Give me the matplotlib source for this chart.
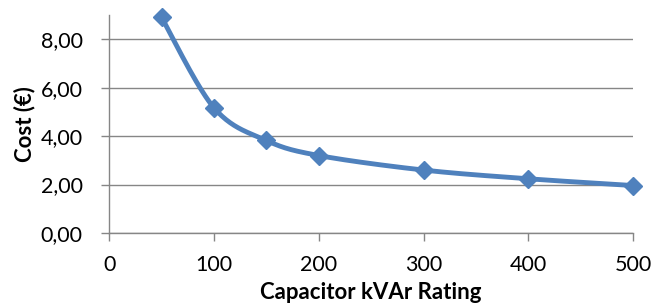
import numpy as np
import matplotlib.pyplot as plt
import matplotlib.ticker as mticker

# capacitor ratings and cost
ratings = [50, 100, 150, 200, 300, 400, 500]
cost = [8.90, 5.17, 3.82, 3.20, 2.60, 2.24, 1.96]

plt.rcParams['font.family'] = ['Lato', 'DejaVu Sans']
blue = '#4F81BD'
grey = '#868686'


def smooth(xs, ys, n=40):
    # Catmull-Rom style curve through the points, like a spreadsheet smoothed line
    xs = np.asarray(xs, float)
    ys = np.asarray(ys, float)
    px = np.concatenate([[xs[0]], xs, [xs[-1]]])
    py = np.concatenate([[ys[0]], ys, [ys[-1]]])
    out_x, out_y = [], []
    for i in range(1, len(px) - 2):
        t = np.linspace(0, 1, n)
        p0, p1, p2, p3 = (np.array([px[j], py[j]]) for j in range(i - 1, i + 3))
        c1 = p1 + (p2 - p0) / 6
        c2 = p2 - (p3 - p1) / 6
        pts = ((1 - t) ** 3)[:, None] * p1 + (3 * (1 - t) ** 2 * t)[:, None] * c1 \
            + (3 * (1 - t) * t ** 2)[:, None] * c2 + (t ** 3)[:, None] * p2
        out_x.extend(pts[:, 0])
        out_y.extend(pts[:, 1])
    return out_x, out_y


fig = plt.figure(figsize=(6.54, 3.07), dpi=100)
ax = fig.add_axes([0.167, 0.241, 0.801, 0.710])

sx, sy = smooth(ratings, cost)
ax.plot(sx, sy, color=blue, lw=3.5, solid_capstyle='round', clip_on=False, zorder=3)
ax.plot(ratings, cost, linestyle='none', marker='D', markersize=9.5,
        color=blue, clip_on=False, zorder=4)

ax.set_xlim(0, 500)
ax.set_ylim(0, 9)
ax.set_xticks(range(0, 501, 100))
ax.set_yticks(range(0, 9, 2))
ax.yaxis.set_major_formatter(mticker.FuncFormatter(lambda v, p: f"{v:.2f}".replace('.', ',')))

ax.grid(axis='y', color=grey, lw=1)
ax.set_axisbelow(True)
for s in ['top', 'right']:
    ax.spines[s].set_visible(False)
for s in ['left', 'bottom']:
    ax.spines[s].set_color(grey)
    ax.spines[s].set_linewidth(1)
ax.tick_params(axis='both', colors=grey, labelcolor='black', labelsize=15.5, length=6, width=1)
ax.tick_params(axis='x', pad=10)
ax.tick_params(axis='y', pad=13)

ax.set_xlabel('Capacitor kVAr Rating', fontsize=16, fontweight='bold', labelpad=5)
ax.set_ylabel('Cost (€)', fontsize=16, fontweight='bold', labelpad=4)

fig.savefig('out.png', dpi=100)
